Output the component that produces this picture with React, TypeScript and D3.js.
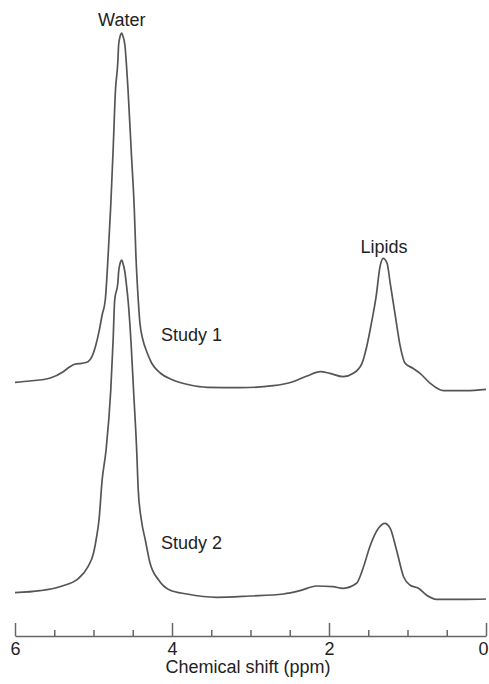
import React, {useEffect, useRef} from 'react';
import * as d3 from 'd3';

// chemical shift (ppm) and signal (a.u.)
const study1Ppm = [6.0, 5.81, 5.55, 5.39, 5.3, 5.24, 5.15, 5.07, 5.02, 4.97, 4.93, 4.89, 4.85, 4.81, 4.78, 4.75, 4.72, 4.69, 4.68, 4.66, 4.64, 4.63, 4.6, 4.58, 4.56, 4.52, 4.48, 4.46, 4.43, 4.41, 4.37, 4.32, 4.26, 4.15, 3.99, 3.77, 3.55, 3.13, 2.71, 2.46, 2.28, 2.11, 1.99, 1.82, 1.69, 1.58, 1.52, 1.46, 1.4, 1.35, 1.31, 1.26, 1.22, 1.16, 1.1, 1.03, 0.93, 0.84, 0.71, 0.54, 0.25, 0.0];
const study1Signal = [7.7, 9, 12, 18, 23.3, 25.7, 26.7, 28.3, 33.3, 45, 58.3, 75, 90, 140, 185, 240, 300, 328, 345, 354, 357, 355, 345, 325, 300, 240, 180, 135, 90, 68, 50, 38, 27, 17, 10, 5, 2.7, 2.3, 4.3, 8.3, 14, 18.3, 16.7, 13.3, 16.7, 26.7, 43.3, 66.7, 93.3, 123.3, 131.7, 126.7, 106.7, 76.7, 46.7, 26.7, 21.7, 16.7, 6.7, -0.7, -0.7, 0.7];

const study2Ppm = [6.0, 5.68, 5.43, 5.19, 5.07, 5.0, 4.96, 4.93, 4.89, 4.84, 4.78, 4.75, 4.73, 4.69, 4.68, 4.66, 4.64, 4.63, 4.6, 4.58, 4.56, 4.52, 4.49, 4.45, 4.43, 4.39, 4.34, 4.28, 4.17, 4.03, 3.81, 3.43, 3.01, 2.58, 2.37, 2.16, 1.95, 1.82, 1.65, 1.56, 1.48, 1.37, 1.29, 1.22, 1.14, 1.05, 0.97, 0.86, 0.76, 0.63, 0.25, 0.0];
const study2Signal = [7.3, 9.3, 13.3, 21.7, 33.3, 46.7, 63.3, 80, 120, 150, 210, 260, 300, 317, 328, 337, 340, 338, 328, 315, 300, 255, 210, 150, 110, 80, 60, 37, 20, 10, 6, 2.7, 4, 6, 9.3, 14, 13.3, 11.7, 16.7, 33.3, 53.3, 71.7, 76.7, 71.7, 50, 23.3, 15, 11.7, 5, 0.7, 0.7, 1];

// vertical stacking of the spectra
const stackOffsets = [210, 0];
const seriesNames = ['Study 1', 'Study 2'];

const majorTicks = [6, 4, 2, 0];
const minorTicks = [5.5, 5, 4.5, 3.5, 3, 2.5, 1.5, 1, 0.5];

const width = 489;
const height = 684;
const axisY = 636;

export default function App() {
  const axisRef = useRef<SVGGElement>(null);

  const x = d3.scaleLinear().domain([6, 0]).range([15, 486]);
  const y = d3.scaleLinear().domain([0, 600]).range([600, 0]);

  const line = d3
    .line<[number, number]>()
    .x(d => x(d[0]))
    .y(d => y(d[1]))
    .curve(d3.curveMonotoneX);

  const series = [
    study1Ppm.map((p, i) => [p, study1Signal[i] + stackOffsets[0]] as [number, number]),
    study2Ppm.map((p, i) => [p, study2Signal[i] + stackOffsets[1]] as [number, number])
  ];

  useEffect(() => {
    const g = d3.select(axisRef.current);
    g.selectAll('*').remove();

    const minor = g.append('g');
    minor.call(
      d3.axisBottom(x).tickValues(minorTicks).tickSizeInner(-6).tickSizeOuter(0).tickFormat(() => '')
    );
    minor.select('.domain').remove();

    const major = g.append('g');
    major.call(
      d3.axisBottom(x).tickValues(majorTicks).tickSizeInner(-13).tickSizeOuter(0).tickPadding(6).tickFormat(d3.format('d'))
    );
    // last label sits against the right edge
    major.selectAll<SVGTextElement, number>('.tick text').attr('dx', d => (d === 0 ? -3 : 0));

    g.selectAll('line, path').attr('stroke', '#666').attr('stroke-width', 1.5);
    g.selectAll('text')
      .attr('fill', '#222')
      .attr('font-size', 18)
      .attr('font-family', 'Liberation Sans, Arial, sans-serif');
  }, []);

  return (
    <svg
      width={width}
      height={height}
      style={{position: 'absolute', left: 0, top: 0, background: '#fff'}}
    >
      {series.map((s, i) => (
        <path key={i} d={line(s) || ''} fill="none" stroke="#555" strokeWidth={1.7} strokeLinejoin="round" />
      ))}
      <g ref={axisRef} transform={`translate(0,${axisY})`} />
      <g fontFamily="Liberation Sans, Arial, sans-serif" fontSize={18} fill="#222">
        <text x={x(4.64)} y={26} textAnchor="middle">Water</text>
        <text x={x(1.3)} y={253} textAnchor="middle">Lipids</text>
        <text x={161} y={341}>{seriesNames[0]}</text>
        <text x={161} y={549}>{seriesNames[1]}</text>
        <text x={248} y={673} textAnchor="middle">Chemical shift (ppm)</text>
      </g>
    </svg>
  );
}
